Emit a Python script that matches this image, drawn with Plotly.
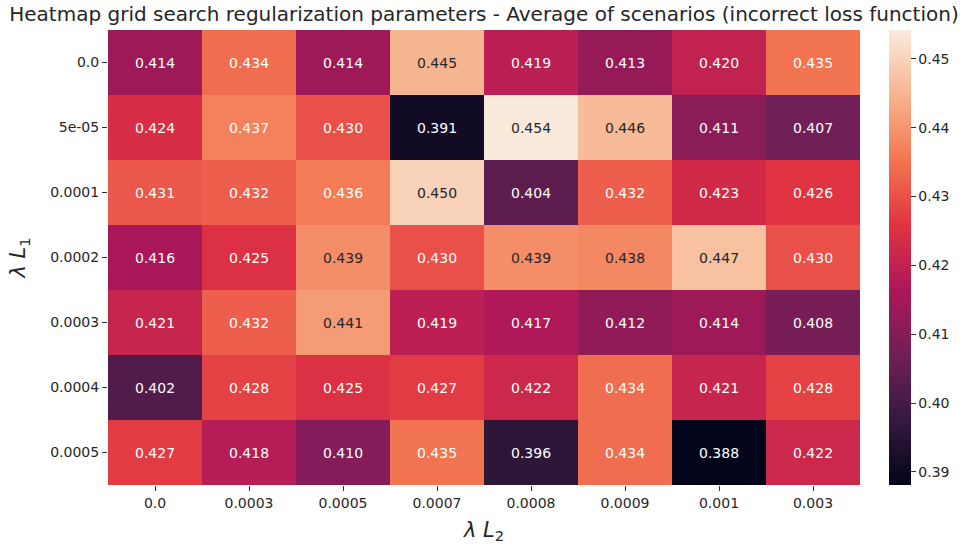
import plotly.graph_objects as go

l2_labels = ["0.0", "0.0003", "0.0005", "0.0007", "0.0008", "0.0009", "0.001", "0.003"]
l1_labels = ["0.0", "5e-05", "0.0001", "0.0002", "0.0003", "0.0004", "0.0005"]
values = [
    [0.414, 0.434, 0.414, 0.445, 0.419, 0.413, 0.420, 0.435],
    [0.424, 0.437, 0.430, 0.391, 0.454, 0.446, 0.411, 0.407],
    [0.431, 0.432, 0.436, 0.450, 0.404, 0.432, 0.423, 0.426],
    [0.416, 0.425, 0.439, 0.430, 0.439, 0.438, 0.447, 0.430],
    [0.421, 0.432, 0.441, 0.419, 0.417, 0.412, 0.414, 0.408],
    [0.402, 0.428, 0.425, 0.427, 0.422, 0.434, 0.421, 0.428],
    [0.427, 0.418, 0.410, 0.435, 0.396, 0.434, 0.388, 0.422],
]
cb_ticks = [0.39, 0.40, 0.41, 0.42, 0.43, 0.44, 0.45]

rocket = [
    [0.0, "#03051a"],
    [1 / 7, "#35193e"],
    [2 / 7, "#701f57"],
    [3 / 7, "#ad1759"],
    [4 / 7, "#e13342"],
    [5 / 7, "#f37651"],
    [6 / 7, "#f6b48f"],
    [1.0, "#faebdd"],
]

zmin, zmax = 0.3881, 0.4542
xi = list(range(len(l2_labels)))
yi = list(range(len(l1_labels)))

fig = go.Figure()
fig.add_trace(go.Heatmap(
    z=values, x=xi, y=yi,
    colorscale=rocket, zmin=zmin, zmax=zmax,
    showscale=True,
    colorbar=dict(
        thickness=22, len=1.0, lenmode="fraction", y=0.5, yanchor="middle",
        x=1.0386, xanchor="left", xpad=0, ypad=0, outlinewidth=0,
        tickvals=cb_ticks, ticktext=[f"{t:.2f}" for t in cb_ticks],
        ticks="outside", ticklen=5, tickwidth=1, tickcolor="#333",
        tickfont=dict(family="DejaVu Sans", size=14, color="#262626"),
    ),
    hoverinfo="skip",
))

annotations = []
for i, row in enumerate(values):
    for j, v in enumerate(row):
        color = "#262626" if v >= 0.438 else "white"
        annotations.append(dict(
            x=xi[j], y=yi[i], text=f"{v:.3f}", showarrow=False,
            xref="x", yref="y",
            font=dict(family="DejaVu Sans", size=14, color=color),
        ))

fig.update_layout(
    width=964, height=550,
    margin=dict(l=108, r=104, t=30, b=65),
    paper_bgcolor="white", plot_bgcolor="white",
    title=dict(
        text="Heatmap grid search regularization parameters - Average of scenarios (incorrect loss function)",
        x=(108 + 860) / 2 / 964, xanchor="center", y=1 - 14 / 550, yanchor="middle",
        font=dict(family="DejaVu Sans", size=20, color="#262626"),
    ),
    annotations=annotations,
    xaxis=dict(
        tickmode="array", tickvals=xi, ticktext=l2_labels,
        range=[-0.5, len(xi) - 0.5],
        showgrid=False, zeroline=False, showline=False,
        ticks="outside", ticklen=5, tickwidth=1, tickcolor="#333",
        tickfont=dict(family="DejaVu Sans", size=14, color="#262626"),
        title=dict(text="<i>λ L</i><sub>2</sub>", font=dict(family="DejaVu Sans", size=21, color="#262626"), standoff=12),
    ),
    yaxis=dict(
        tickmode="array", tickvals=yi, ticktext=l1_labels,
        range=[len(yi) - 0.5, -0.5],
        showgrid=False, zeroline=False, showline=False,
        ticks="outside", ticklen=5, tickwidth=1, tickcolor="#333",
        tickfont=dict(family="DejaVu Sans", size=14, color="#262626"),
        title=dict(text="<i>λ L</i><sub>1</sub>", font=dict(family="DejaVu Sans", size=21, color="#262626"), standoff=18),
    ),
)

fig.write_html("out.html")
